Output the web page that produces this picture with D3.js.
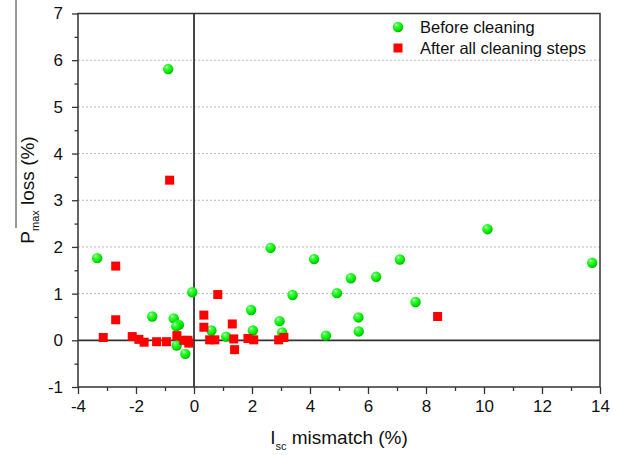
<!DOCTYPE html>
<html>
<head>
<meta charset="utf-8">
<script src="https://cdn.jsdelivr.net/npm/d3@7"></script>
<style>
  body { margin: 0; background: #fff; }
  svg { display: block; font-family: "Liberation Sans", Arial, sans-serif; }
  .tick text { font-size: 17px; fill: #111; }
  .tick line { stroke: #333; stroke-width: 1.3; }
</style>
</head>
<body>
<svg id="chart" width="624" height="455"></svg>
<script>
// Before cleaning (green circles)
var beforeX = [-3.34, -1.44, -0.70, -0.52, -0.61, -0.60, -0.30, -0.06, 0.60, 1.11,
               1.97, 2.03, 2.64, 2.95, 3.04, 3.40, 4.14, 4.55, 4.93, 5.41,
               5.67, 5.68, 6.28, 7.10, 7.64, 10.12, 13.73, -0.89]
var beforeY = [1.76, 0.51, 0.47, 0.33, 0.30, -0.11, -0.29, 1.03, 0.21, 0.08,
               0.65, 0.21, 1.98, 0.41, 0.17, 0.97, 1.74, 0.10, 1.01, 1.33,
               0.49, 0.19, 1.36, 1.73, 0.82, 2.38, 1.66, 5.81]
// After all cleaning steps (red squares)
var afterX = [-2.70, -2.70, -3.13, -2.13, -1.90, -1.72, -1.29, -0.95, -0.59, -0.35,
              -0.21, -0.18, 0.34, 0.34, 0.54, 0.72, 0.82, 1.32, 1.37, 1.40,
              1.86, 2.06, 2.92, 3.10, -0.84, 8.40]
var afterY = [1.59, 0.44, 0.06, 0.08, 0.02, -0.04, -0.03, -0.03, 0.10, 0.00,
              0.00, -0.06, 0.54, 0.28, 0.01, 0.01, 0.98, 0.35, 0.03, -0.20,
              0.04, 0.01, 0.01, 0.06, 3.43, 0.51]

var xMajor = [-4, -2, 0, 2, 4, 6, 8, 10, 12, 14]
var xMinor = [-3, -1, 1, 3, 5, 7, 9, 11, 13]
var yMajor = [-1, 0, 1, 2, 3, 4, 5, 6, 7]
var yMinor = [-0.5, 0.5, 1.5, 2.5, 3.5, 4.5, 5.5, 6.5]
var gridY = [1, 2, 3, 4, 5, 6]
var legendLabels = ["Before cleaning", "After all cleaning steps"]

var plotLeft = 78, plotRight = 600, plotTop = 13.5, plotBottom = 387

var svg = d3.select("#chart")
var x = d3.scaleLinear().domain([-4, 14]).range([plotLeft, plotRight])
var y = d3.scaleLinear().domain([-1, 7]).range([plotBottom, plotTop])

// shaded ball for the green markers
var grad = svg.append("defs").append("radialGradient")
   .attr("id", "ball").attr("cx", "40%").attr("cy", "35%").attr("r", "65%")
   .attr("fx", "35%").attr("fy", "30%")
grad.append("stop").attr("offset", "0%").attr("stop-color", "#f2fff2")
grad.append("stop").attr("offset", "22%").attr("stop-color", "#4dff4d")
grad.append("stop").attr("offset", "70%").attr("stop-color", "#00ee00")
grad.append("stop").attr("offset", "100%").attr("stop-color", "#00b800")

/* dotted grid */
svg.append("g").selectAll("line").data(gridY).enter().append("line")
   .attr("x1", plotLeft).attr("x2", plotRight)
   .attr("y1", function(d) { return y(d) }).attr("y2", function(d) { return y(d) })
   .attr("stroke", "#bbb").attr("stroke-width", 1).attr("stroke-dasharray", "2,2")

// minor ticks
svg.append("g").attr("transform", "translate(0," + plotBottom + ")")
   .call(d3.axisBottom(x).tickValues(xMinor).tickSize(4).tickFormat(""))
   .call(function(g) { g.select(".domain").remove() })
svg.append("g").attr("transform", "translate(" + plotLeft + ",0)")
   .call(d3.axisLeft(y).tickValues(yMinor).tickSize(3.5).tickFormat(""))
   .call(function(g) { g.select(".domain").remove() })

// major ticks + labels
var fmt = function(d) { return d < 0 ? "-" + Math.abs(d) : "" + d }
svg.append("g").attr("transform", "translate(0," + plotBottom + ")")
   .call(d3.axisBottom(x).tickValues(xMajor).tickSize(7).tickPadding(6).tickFormat(fmt))
   .call(function(g) { g.select(".domain").remove() })
svg.append("g").attr("transform", "translate(" + plotLeft + ",0)")
   .call(d3.axisLeft(y).tickValues(yMajor).tickSize(6).tickPadding(9).tickFormat(fmt))
   .call(function(g) { g.select(".domain").remove() })

// zero lines
svg.append("line").attr("x1", x(0)).attr("x2", x(0)).attr("y1", plotTop).attr("y2", plotBottom)
   .attr("stroke", "#333").attr("stroke-width", 1.8)
svg.append("line").attr("x1", plotLeft).attr("x2", plotRight).attr("y1", y(0)).attr("y2", y(0))
   .attr("stroke", "#333").attr("stroke-width", 1.8)

// frame
svg.append("rect").attr("x", plotLeft).attr("y", plotTop)
   .attr("width", plotRight - plotLeft).attr("height", plotBottom - plotTop)
   .attr("fill", "none").attr("stroke", "#333").attr("stroke-width", 1.5)

/* markers */
var before = beforeX.map(function(d, i) { return [d, beforeY[i]] })
var after = afterX.map(function(d, i) { return [d, afterY[i]] })

svg.append("g").selectAll("circle").data(before).enter().append("circle")
   .attr("cx", function(d) { return x(d[0]) })
   .attr("cy", function(d) { return y(d[1]) })
   .attr("r", 5.2)
   .attr("fill", "url(#ball)")

svg.append("g").selectAll("rect").data(after).enter().append("rect")
   .attr("x", function(d) { return x(d[0]) - 4.5 })
   .attr("y", function(d) { return y(d[1]) - 4.5 })
   .attr("width", 9).attr("height", 9)
   .attr("fill", "#ff0000")

// legend
var legend = svg.append("g")
legend.append("circle").attr("cx", 398).attr("cy", 27).attr("r", 5.2).attr("fill", "url(#ball)")
legend.append("rect").attr("x", 393.5).attr("y", 43.5).attr("width", 9).attr("height", 9).attr("fill", "#ff0000")
legend.selectAll("text").data(legendLabels).enter().append("text")
   .attr("x", 420).attr("y", function(d, i) { return 33 + i * 21 })
   .attr("font-size", "16.5px").attr("fill", "#111")
   .text(function(d) { return d })

// axis titles
var xt = svg.append("text").attr("x", (plotLeft + plotRight) / 2).attr("y", 444)
   .attr("text-anchor", "middle").attr("font-size", "19px").attr("fill", "#111")
xt.append("tspan").text("I")
xt.append("tspan").attr("font-size", "11px").attr("dy", 6).text("sc")
xt.append("tspan").attr("dy", -6).text(" mismatch (%)")

var yt = svg.append("text").attr("transform", "translate(34,190) rotate(-90)")
   .attr("text-anchor", "middle").attr("font-size", "19px").attr("fill", "#111")
yt.append("tspan").text("P")
yt.append("tspan").attr("font-size", "11px").attr("dy", 5).text("max")
yt.append("tspan").attr("dy", -5).text(" loss (%)")

// stray rule over the y title, as in the source image
svg.append("line").attr("x1", 16).attr("x2", 16).attr("y1", 0).attr("y2", 228)
   .attr("stroke", "#333").attr("stroke-width", 1)
</script>
</body>
</html>
